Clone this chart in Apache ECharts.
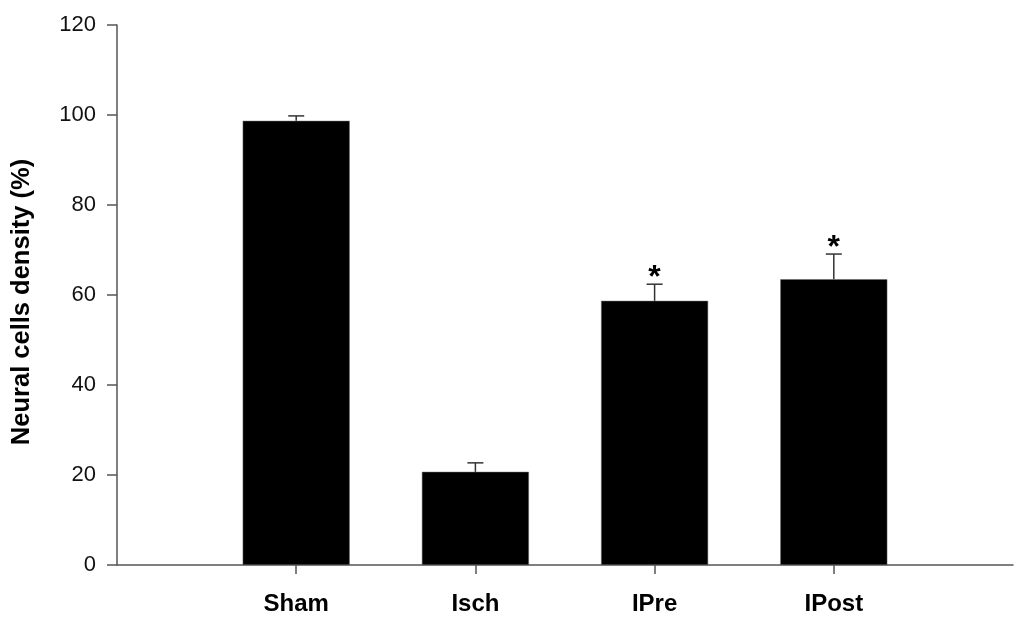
<!DOCTYPE html>
<html>
<head>
<meta charset="utf-8">
<script src="https://cdn.jsdelivr.net/npm/echarts@6/dist/echarts.min.js"></script>
<style>
  html, body { margin: 0; padding: 0; background: #fff; }
  #chart { width: 1024px; height: 621px; }
</style>
</head>
<body>
<div id="chart"></div>
<script>
// data
const categories = ['Sham', 'Isch', 'IPre', 'IPost']
const means = [98.7, 20.7, 58.7, 63.5]
const errorTops = [99.8, 22.7, 62.4, 69.1]
const significant = [false, false, true, true]
const yTicks = [0, 20, 40, 60, 80, 100, 120]

const positions = categories.map((c, i) => i + 1)
const font = 'Liberation Sans, Arial, sans-serif'

const chart = echarts.init(document.getElementById('chart'))

const option = {
  animation: false,
  backgroundColor: '#fff',
  grid: {
    left: 117,
    right: 11,
    top: 25,
    bottom: 56,
    outerBoundsMode: 'none'
  },
  xAxis: {
    type: 'value',
    min: 0,
    max: 5,
    interval: 1,
    splitLine: { show: false },
    axisLine: { lineStyle: { color: '#555', width: 1.5 } },
    axisTick: {
      customValues: positions,
      length: 9,
      lineStyle: { color: '#555', width: 1.5 }
    },
    axisLabel: {
      customValues: positions,
      margin: 27,
      color: '#000',
      fontFamily: font,
      fontWeight: 'bold',
      fontSize: 24,
      formatter: v => categories[Math.round(v) - 1] || ''
    }
  },
  yAxis: {
    type: 'value',
    min: yTicks[0],
    max: yTicks[yTicks.length - 1],
    interval: 20,
    name: 'Neural cells density (%)',
    nameLocation: 'middle',
    nameGap: 82,
    nameTextStyle: {
      color: '#000',
      fontFamily: font,
      fontWeight: 'bold',
      fontSize: 25.5,
      padding: [0, 14, 0, 0]
    },
    splitLine: { show: false },
    axisLine: { show: true, lineStyle: { color: '#555', width: 1.5 } },
    axisTick: { show: true, length: 10, lineStyle: { color: '#555', width: 1.5 } },
    axisLabel: {
      margin: 21,
      color: '#111',
      fontFamily: font,
      fontSize: 22
    }
  },
  series: [
    {
      type: 'bar',
      barWidth: 107,
      itemStyle: { color: '#000', borderColor: '#666', borderWidth: 0.5 },
      data: positions.map((x, i) => [x, means[i]])
    },
    {
      type: 'custom',
      z: 3,
      data: positions.map((x, i) => [x, means[i], errorTops[i], significant[i] ? 1 : 0]),
      renderItem: function (params, api) {
        const x = api.value(0)
        const base = api.coord([x, api.value(1)])
        const top = api.coord([x, api.value(2)])
        const half = 8
        const style = { stroke: '#333', lineWidth: 1.5 }
        const children = [
          { type: 'line', shape: { x1: base[0], y1: base[1], x2: top[0], y2: top[1] }, style: style },
          { type: 'line', shape: { x1: top[0] - half, y1: top[1], x2: top[0] + half, y2: top[1] }, style: style }
        ]
        if (api.value(3)) {
          children.push({
            type: 'text',
            style: {
              text: '*',
              x: top[0],
              y: top[1] + 10,
              align: 'center',
              verticalAlign: 'bottom',
              fill: '#000',
              font: 'bold 32px ' + font
            }
          })
        }
        return { type: 'group', children: children }
      }
    }
  ]
}

chart.setOption(option)
</script>
</body>
</html>
